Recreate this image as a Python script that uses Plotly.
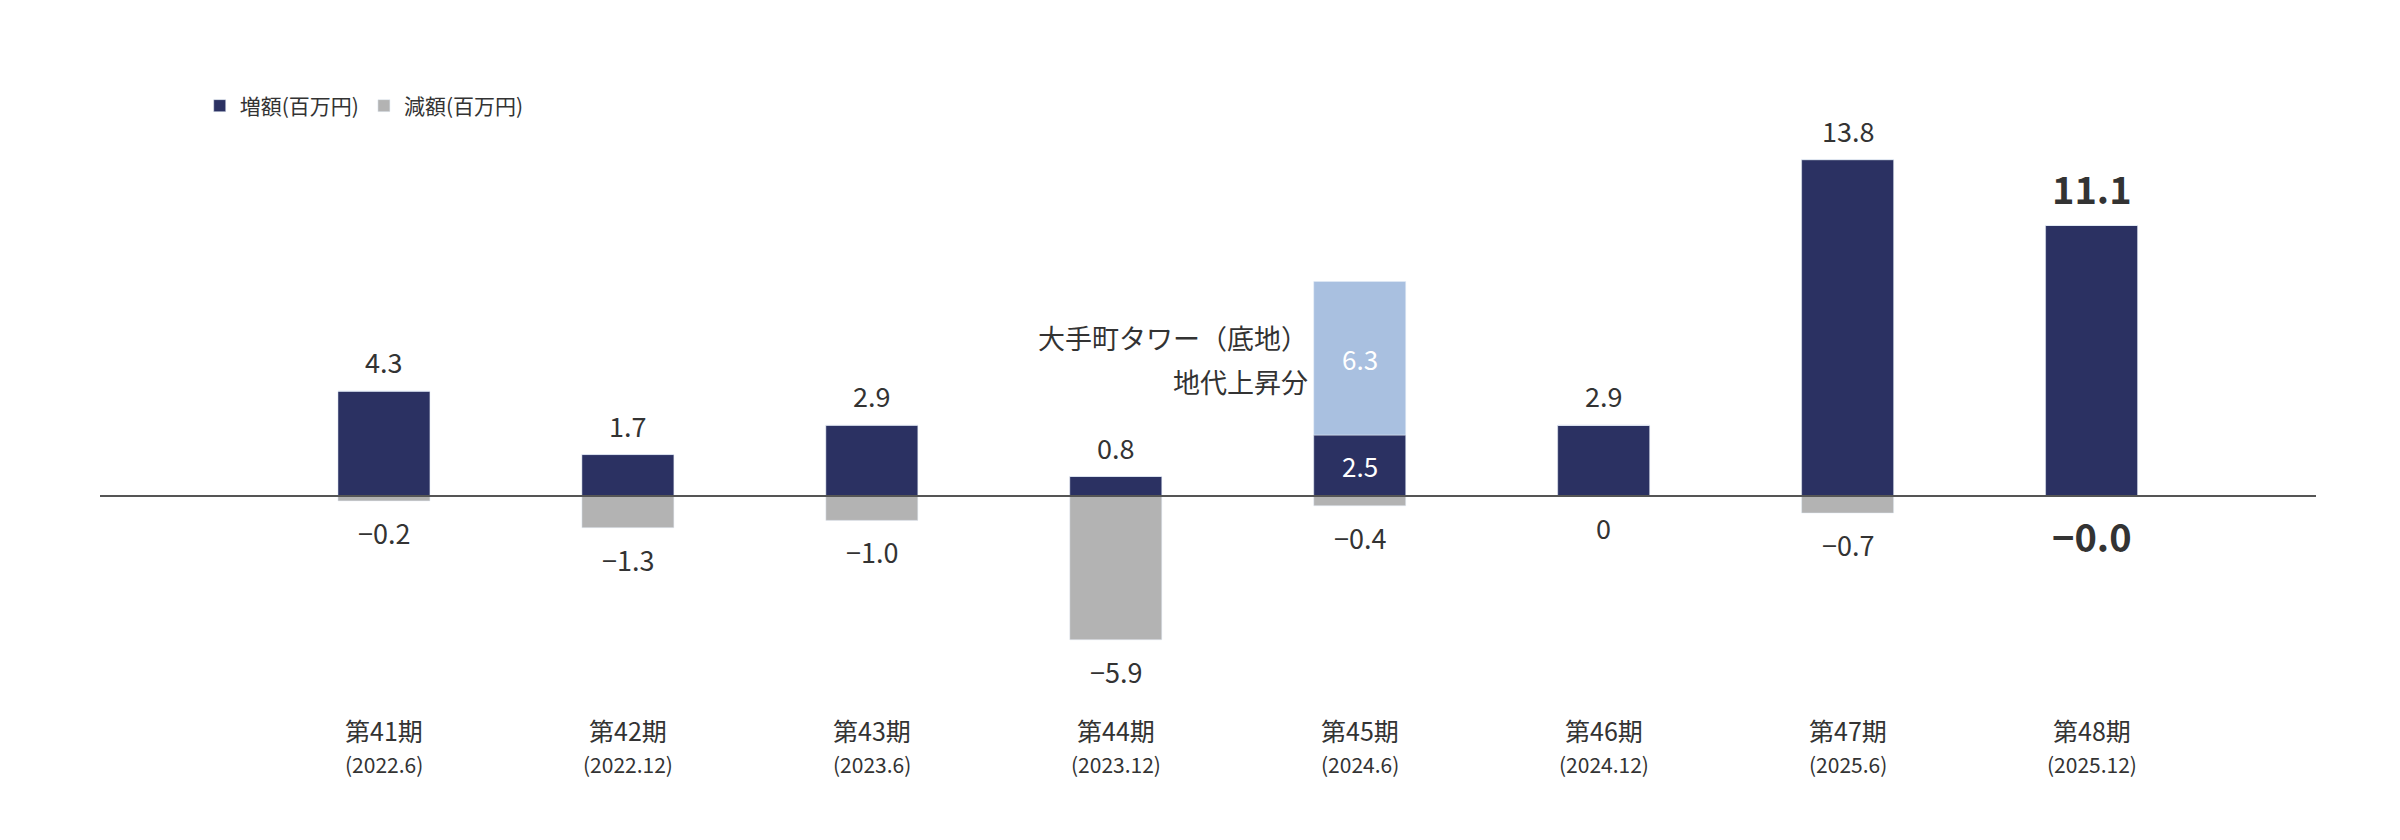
import plotly.graph_objects as go

periods = ["第41期", "第42期", "第43期", "第44期", "第45期", "第46期", "第47期", "第48期"]
dates = ["(2022.6)", "(2022.12)", "(2023.6)", "(2023.12)", "(2024.6)", "(2024.12)", "(2025.6)", "(2025.12)"]
increase = [4.3, 1.7, 2.9, 0.8, 2.5, 2.9, 13.8, 11.1]
decrease = [-0.2, -1.3, -1.0, -5.9, -0.4, 0, -0.7, -0.0]
decrease_labels = ["−0.2", "−1.3", "−1.0", "−5.9", "−0.4", "0", "−0.7", "−0.0"]
special = [0, 0, 0, 0, 6.3, 0, 0, 0]

FONT = "Noto Sans CJK JP"
DARK, GRAY, LIGHT, TXT = "#2b3162", "#b3b3b3", "#a9c0e0", "#333333"
x = list(range(len(periods)))
W = 0.377

fig = go.Figure()
fig.add_bar(x=x, y=increase, width=W, marker_color=DARK, name="増額(百万円)")
fig.add_bar(x=x, y=decrease, width=W, marker_color=GRAY, name="減額(百万円)")
fig.add_bar(x=x, y=special, width=W, marker_color=LIGHT, showlegend=False)

ann = []
for i in x:
    big = i == len(x) - 1
    fs = 38 if big else 27
    top = increase[i] + special[i]
    if i == 4:
        ann.append(dict(x=i, y=increase[i] / 2, text=f"{increase[i]}", showarrow=False,
                        font=dict(size=26, color="white")))
        ann.append(dict(x=i, y=increase[i] + special[i] / 2, text=f"{special[i]}", showarrow=False,
                        font=dict(size=26, color="white")))
    else:
        ann.append(dict(x=i, y=top, text=f"{increase[i]}", showarrow=False, yanchor="bottom", yshift=8,
                        font=dict(size=fs, color=TXT, weight="bold" if big else "normal")))
    ann.append(dict(x=i, y=decrease[i], text=decrease_labels[i], showarrow=False, yanchor="top",
                    yshift=-10, font=dict(size=fs, color=TXT, weight="bold" if big else "normal")))
    ann.append(dict(x=i, y=0, text=periods[i], showarrow=False, yanchor="middle", yshift=-234,
                    font=dict(size=25, color=TXT)))
    ann.append(dict(x=i, y=0, text=dates[i], showarrow=False, yanchor="middle", yshift=-268,
                    font=dict(size=21, color=TXT)))
ann.append(dict(x=4, xshift=-50, y=0, yshift=159, xanchor="right", showarrow=False,
                text="大手町タワー（底地）", font=dict(size=27, color=TXT)))
ann.append(dict(x=4, xshift=-50, y=0, yshift=115, xanchor="right", showarrow=False,
                text="地代上昇分", font=dict(size=27, color=TXT)))

fig.update_layout(
    barmode="relative", width=2400, height=840, plot_bgcolor="white", paper_bgcolor="white",
    margin=dict(l=92, r=92, t=98, b=157), font=dict(family=FONT, color=TXT),
    annotations=ann,
    legend=dict(orientation="h", x=0.045, y=1.0, xanchor="left", yanchor="middle",
                font=dict(size=21, color=TXT), itemwidth=30),
    xaxis=dict(range=[-1.164, 7.92], visible=False),
    yaxis=dict(range=[-8, 16], visible=False),
    shapes=[dict(type="line", xref="paper", x0=0, x1=1, y0=0, y1=0, line=dict(color="#555", width=2))],
)
fig.write_html("out.html")
